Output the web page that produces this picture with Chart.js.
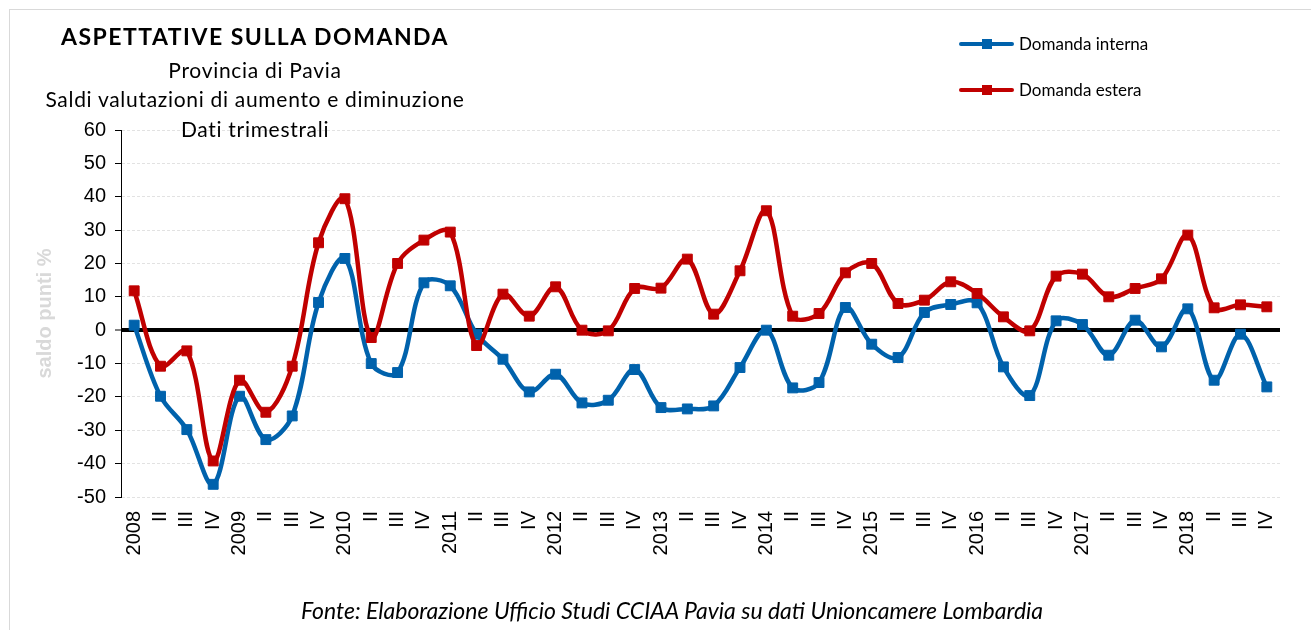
<!DOCTYPE html>
<html>
<head>
<meta charset="utf-8">
<script src="https://cdn.jsdelivr.net/npm/chart.js@4.4.1/dist/chart.umd.min.js"></script>
<style>
  body { margin: 0; background: #fff; }
  #wrap { position: relative; width: 1311px; height: 630px; overflow: hidden; font-family: Lato, 'Noto Sans', sans-serif; }
  #frame { position: absolute; left: 9px; top: 9px; width: 1400px; height: 700px; border-left: 1px solid #d9d9d9; border-top: 1px solid #d9d9d9; }
  canvas { position: absolute; left: 0; top: 0; }
  .t { position: absolute; left: 5px; width: 500px; text-align: center; white-space: nowrap; color: #000; line-height: 1; }
  .sub { font-size: 21px; letter-spacing: 0.7px; }
  .lg { position: absolute; left: 959px; height: 20px; font-size: 17px; line-height: 20px; color: #000; white-space: nowrap; }
  .lg .ln { position: absolute; left: 0; top: 8px; width: 55px; height: 4px; border-radius: 2px; }
  .lg .ln i { position: absolute; left: 23px; top: -3px; width: 10px; height: 10px; background: inherit; }
  .lg span.txt { position: absolute; left: 60px; top: 0; }
  #fonte { position: absolute; left: 0; width: 1344px; top: 599px; text-align: center; font-style: italic; font-size: 23px; line-height: 1; color: #000; white-space: nowrap; }
</style>
</head>
<body>
<div id="wrap">
  <div id="frame"></div>
  <canvas id="chart" width="1311" height="630"></canvas>
  <div class="t" style="top:25px;font-size:23px;font-weight:bold;letter-spacing:1.5px;">ASPETTATIVE SULLA DOMANDA</div>
  <div class="t sub" style="top:59px;">Provincia di Pavia</div>
  <div class="t sub" style="top:88px;">Saldi valutazioni di aumento e diminuzione</div>
  <div class="t sub" style="top:118px;">Dati trimestrali</div>
  <div class="lg" style="top:34px;"><div class="ln" style="background:#0062ac;"><i></i></div><span class="txt">Domanda interna</span></div>
  <div class="lg" style="top:80px;"><div class="ln" style="background:#c00000;"><i></i></div><span class="txt">Domanda estera</span></div>
  <div id="fonte">Fonte: Elaborazione Ufficio Studi CCIAA Pavia su dati Unioncamere Lombardia</div>
</div>
<script>
const years = ['2008', '2009', '2010', '2011', '2012', '2013', '2014', '2015', '2016', '2017', '2018'];
const quarters = ['', 'II', 'III', 'IV'];

const domandaInterna = [
  1.5, -19.8, -29.8, -46.2,
  -19.8, -32.8, -25.7, 8.3,
  21.5, -10, -12.7, 14.2,
  13.3, -1.2, -8.7, -18.5,
  -13.2, -21.8, -21, -11.8,
  -23.2, -23.6, -22.7, -11.2,
  0, -17.3, -15.7, 6.8,
  -4.2, -8.2, 5.3, 7.7,
  8.2, -11, -19.6, 2.8,
  1.7, -7.5, 3, -5,
  6.4, -15, -1.2, -17
];
const domandaEstera = [
  11.8, -10.8, -6.2, -39.2,
  -15, -24.6, -10.8, 26.2,
  39.4, -2.2, 20, 27,
  29.4, -4.6, 10.8, 4.2,
  13, 0, -0.2, 12.5,
  12.6, 21.3, 4.8, 17.8,
  35.8, 4.2, 5, 17.2,
  20, 8, 9, 14.5,
  11, 4, -0.2, 16.2,
  16.8, 10, 12.5, 15.4,
  28.5, 6.7, 7.6, 7
];
const yTicksMin = -50, yTicksMax = 60, yStep = 10;

const labels = [];
years.forEach(y => quarters.forEach(q => labels.push(q === '' ? y : q)));

const blue = '#0062ac';
const red = '#c00000';
const tickFont = { family: "'Liberation Sans', Arial, sans-serif", size: 20 };

const isZero = c => c.tick && c.tick.value === 0;

const config = {
  type: 'line',
  data: {
    labels: labels,
    datasets: [
      {
        label: 'Domanda interna',
        data: domandaInterna,
        borderColor: blue,
        backgroundColor: blue,
        order: 1
      },
      {
        label: 'Domanda estera',
        data: domandaEstera,
        borderColor: red,
        backgroundColor: red,
        order: 0
      }
    ]
  },
  options: {
    responsive: false,
    animation: false,
    layout: { padding: { top: 130, right: 31, left: 0, bottom: 0 } },
    plugins: { legend: { display: false }, tooltip: { enabled: false } },
    elements: {
      line: { tension: 0.35, borderWidth: 4.5, borderCapStyle: 'round', borderJoinStyle: 'round', fill: false },
      point: { pointStyle: 'rect', radius: 7, borderWidth: 1 }
    },
    scales: {
      x: {
        offset: true,
        grid: { display: false, drawTicks: false },
        border: { display: false },
        ticks: { autoSkip: false, minRotation: 90, maxRotation: 90, padding: 14, color: '#000', font: tickFont },
        afterFit: s => { s.height = 133; }
      },
      y: {
        min: yTicksMin,
        max: yTicksMax,
        ticks: { stepSize: yStep, padding: 9, color: '#000', font: tickFont },
        grid: {
          color: c => isZero(c) ? '#000' : '#e2e2e2',
          lineWidth: c => isZero(c) ? 4 : 1,
          tickColor: '#000',
          tickWidth: 1,
          tickLength: 6
        },
        border: { color: '#000', width: 1, dash: c => (c.tick && c.tick.value !== 0) ? [3, 2] : [] },
        title: {
          display: true,
          text: 'saldo punti %',
          color: '#d9d9d9',
          font: { family: "'Liberation Sans', Arial, sans-serif", size: 20, weight: 'bold' },
          padding: { top: 33, bottom: 0 }
        },
        afterFit: s => { s.width = 121; }
      }
    }
  }
};

new Chart(document.getElementById('chart'), config);
</script>
</body>
</html>
